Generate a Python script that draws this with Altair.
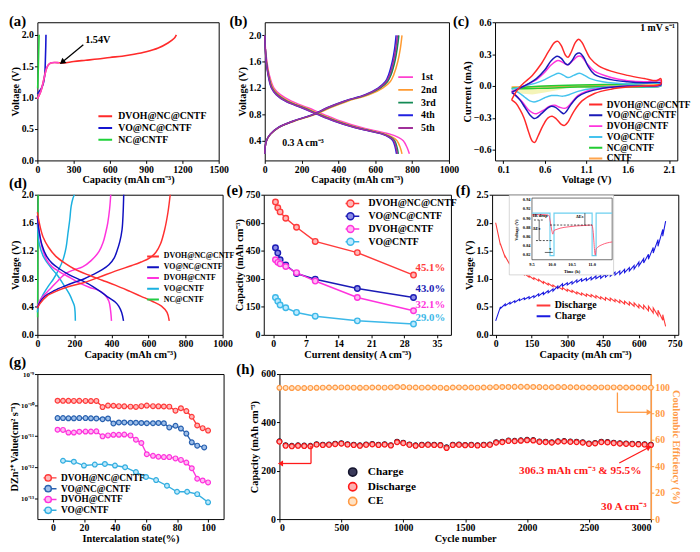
import math
import altair as alt
import pandas as pd

SERIF = "Liberation Serif"
CAP_T = "Capacity (mAh cm⁻³)"

# ---------------- (a) first charge ----------------
a_series = ["DVOH@NC@CNTF", "VO@NC@CNTF", "NC@CNTF"]
a_colors = ["#ff2a2a", "#1515d0", "#1fd23a"]
a_dvoh_cap = [0, 15, 30, 45, 60, 75, 90, 110, 140, 180, 220, 300, 400, 500, 600, 700, 800, 900, 1000, 1080, 1130, 1150]
a_dvoh_v = [0.98, 1.04, 1.11, 1.22, 1.35, 1.46, 1.52, 1.55, 1.56, 1.555, 1.55, 1.575, 1.595, 1.615, 1.64, 1.66, 1.69, 1.73, 1.79, 1.87, 1.94, 2.0]
a_pink_cap = [0, 15, 30, 45, 60, 75, 90, 110, 140, 180]
a_pink_v = [0.98, 1.04, 1.11, 1.22, 1.35, 1.46, 1.52, 1.55, 1.56, 1.555]
a_vo_cap = [0, 15, 30, 45, 55, 62, 66, 69, 71]
a_vo_v = [1.06, 1.1, 1.14, 1.2, 1.28, 1.4, 1.6, 1.8, 2.0]
a_nc_cap = [2, 5, 8, 11, 14]
a_nc_v = [1.15, 1.3, 1.5, 1.75, 2.0]

# ---------------- (b) GCD cycles ----------------
b_series = ["1st", "2nd", "3rd", "4th", "5th"]
b_colors = ["#ff40d0", "#ff9a30", "#138a55", "#2020e0", "#a0309a"]
b_dis_v = [2.0, 1.8, 1.6, 1.4, 1.2, 1.1, 1.0, 0.9, 0.8, 0.7, 0.6, 0.55, 0.5, 0.45, 0.4, 0.3, 0.2]
b_dis_1 = [0, 4, 12, 25, 50, 85, 145, 235, 320, 410, 525, 600, 680, 725, 752, 772, 785]
b_dis_2 = [0, 3, 10, 22, 45, 75, 130, 220, 305, 395, 505, 580, 655, 695, 718, 735, 745]
b_dis_3 = [0, 3, 9, 20, 40, 68, 120, 210, 295, 385, 495, 570, 645, 685, 705, 718, 725]
b_dis_4 = [0, 3, 8, 18, 36, 62, 112, 200, 285, 375, 487, 562, 637, 675, 695, 708, 715]
b_dis_5 = [0, 3, 8, 19, 38, 64, 115, 204, 289, 379, 490, 566, 641, 679, 700, 712, 720]
b_chg_v = [0.2, 0.3, 0.4, 0.5, 0.6, 0.7, 0.8, 0.9, 1.0, 1.1, 1.2, 1.3, 1.4, 1.6, 1.8, 2.0]
b_chg_1 = [0, 2, 10, 32, 75, 160, 270, 348, 440, 555, 625, 665, 683, 703, 716, 725]
b_chg_2 = [0, 2, 10, 32, 76, 163, 275, 355, 450, 568, 640, 682, 700, 722, 736, 745]
b_chg_3 = [0, 2, 9, 31, 74, 158, 268, 345, 438, 555, 626, 667, 685, 706, 719, 728]
b_chg_4 = [0, 2, 9, 30, 72, 155, 262, 338, 430, 545, 615, 655, 672, 692, 705, 713]
b_chg_5 = [0, 2, 9, 30, 73, 156, 265, 341, 434, 550, 620, 660, 678, 698, 711, 720]

# ---------------- (c) CV ----------------
c_series = ["DVOH@NC@CNTF", "VO@NC@CNTF", "DVOH@CNTF", "VO@CNTF", "NC@CNTF", "CNTF"]
c_colors = ["#ff2a2a", "#1a1ab8", "#ff33dd", "#45c3ee", "#22cc33", "#ffa54d"]
c_dvohnc_v = [0.20, 0.25, 0.30, 0.35, 0.45, 0.55, 0.65, 0.72, 0.76, 0.80, 0.85, 0.88, 0.92, 0.97, 1.01, 1.05, 1.10, 1.15, 1.25, 1.40, 1.60, 1.80, 1.95, 2.00,
              2.00, 1.80, 1.60, 1.40, 1.20, 1.05, 0.95, 0.88, 0.84, 0.80, 0.74, 0.69, 0.64, 0.58, 0.52, 0.48, 0.45, 0.40, 0.35, 0.30, 0.25, 0.20]
c_dvohnc_i = [-0.13, -0.06, -0.01, 0.03, 0.10, 0.20, 0.33, 0.41, 0.42, 0.38, 0.29, 0.27, 0.32, 0.41, 0.44, 0.41, 0.33, 0.26, 0.19, 0.14, 0.10, 0.07, 0.05, 0.07,
              0.02, 0.00, -0.01, -0.03, -0.07, -0.14, -0.24, -0.34, -0.37, -0.36, -0.31, -0.285, -0.30, -0.37, -0.47, -0.53, -0.52, -0.42, -0.30, -0.22, -0.16, -0.13]
c_vonc_v = [0.2, 0.3, 0.4, 0.5, 0.6, 0.68, 0.75, 0.80, 0.85, 0.88, 0.93, 0.98, 1.02, 1.07, 1.12, 1.2, 1.4, 1.6, 1.8, 2.0,
            2.0, 1.6, 1.3, 1.1, 1.0, 0.92, 0.86, 0.83, 0.79, 0.73, 0.68, 0.63, 0.56, 0.5, 0.47, 0.43, 0.36, 0.3, 0.25, 0.2]
c_vonc_i = [-0.06, -0.02, 0.02, 0.07, 0.15, 0.24, 0.28, 0.26, 0.21, 0.20, 0.24, 0.30, 0.31, 0.27, 0.19, 0.11, 0.06, 0.04, 0.03, 0.03,
            0.01, 0.0, -0.02, -0.06, -0.1, -0.17, -0.24, -0.26, -0.24, -0.2, -0.19, -0.21, -0.26, -0.3, -0.305, -0.28, -0.2, -0.13, -0.09, -0.06]
c_dvoh_v = [0.2, 0.3, 0.4, 0.5, 0.6, 0.68, 0.76, 0.82, 0.88, 0.94, 1.0, 1.04, 1.1, 1.2, 1.4, 1.6, 1.8, 2.0,
            2.0, 1.6, 1.3, 1.1, 1.0, 0.92, 0.87, 0.84, 0.78, 0.72, 0.66, 0.58, 0.5, 0.46, 0.4, 0.33, 0.27, 0.2]
c_dvoh_i = [-0.05, -0.02, 0.02, 0.06, 0.13, 0.2, 0.24, 0.22, 0.2, 0.24, 0.28, 0.28, 0.22, 0.14, 0.08, 0.05, 0.04, 0.05,
            0.01, 0.0, -0.02, -0.05, -0.09, -0.16, -0.2, -0.21, -0.2, -0.18, -0.19, -0.23, -0.26, -0.255, -0.22, -0.15, -0.1, -0.05]
c_vo_v = [0.2, 0.3, 0.4, 0.5, 0.6, 0.7, 0.77, 0.83, 0.88, 0.95, 1.02, 1.08, 1.15, 1.3, 1.6, 2.0,
          2.0, 1.6, 1.2, 1.0, 0.9, 0.82, 0.75, 0.68, 0.6, 0.52, 0.47, 0.42, 0.35, 0.28, 0.2]
c_vo_i = [-0.03, -0.01, 0.01, 0.03, 0.06, 0.1, 0.12, 0.1, 0.08, 0.1, 0.12, 0.1, 0.07, 0.04, 0.02, 0.02,
          0.0, -0.005, -0.02, -0.05, -0.08, -0.095, -0.09, -0.09, -0.11, -0.14, -0.15, -0.14, -0.1, -0.06, -0.03]
c_nc_v = [0.2, 0.6, 1.0, 1.5, 2.0, 2.0, 1.5, 1.0, 0.6, 0.3, 0.2]
c_nc_i = [-0.02, 0.0, 0.01, 0.015, 0.02, 0.0, -0.005, -0.01, -0.02, -0.025, -0.02]
c_cntf_v = [0.2, 1.0, 2.0, 2.0, 1.0, 0.2]
c_cntf_i = [-0.01, 0.0, 0.01, 0.0, -0.005, -0.01]
c_fill_v = [0.22, 0.3, 0.45, 0.6, 0.75, 0.95]
c_fill_lo = [-0.03, -0.07, -0.08, -0.06, -0.04, 0.0]

# ---------------- (d) GCD of materials ----------------
d_series = ["DVOH@NC@CNTF", "VO@NC@CNTF", "DVOH@CNTF", "VO@CNTF", "NC@CNTF"]
d_colors = ["#ff3030", "#1010c0", "#ff33dd", "#1ab0e0", "#22cc44"]
d_r_dis_c = [0, 10, 30, 60, 100, 150, 200, 280, 350, 420, 500, 560, 620, 670, 700, 712]
d_r_dis_v = [1.75, 1.6, 1.4, 1.25, 1.12, 1.02, 0.94, 0.85, 0.78, 0.71, 0.62, 0.55, 0.48, 0.41, 0.32, 0.2]
d_r_chg_c = [0, 15, 50, 100, 170, 244, 330, 420, 510, 560, 607, 640, 665, 687, 705, 717]
d_r_chg_v = [0.38, 0.45, 0.55, 0.62, 0.69, 0.74, 0.82, 0.91, 0.99, 1.04, 1.1, 1.18, 1.3, 1.5, 1.75, 2.0]
d_b_dis_c = [0, 8, 25, 50, 80, 120, 170, 244, 300, 350, 386, 420, 439, 455, 465]
d_b_dis_v = [1.7, 1.5, 1.28, 1.12, 1.02, 0.94, 0.86, 0.77, 0.69, 0.6, 0.53, 0.47, 0.41, 0.32, 0.2]
d_b_chg_c = [0, 10, 40, 90, 150, 200, 244, 300, 350, 386, 415, 430, 445, 457, 463, 466]
d_b_chg_v = [0.38, 0.45, 0.55, 0.63, 0.7, 0.75, 0.79, 0.86, 0.93, 1.0, 1.1, 1.2, 1.33, 1.5, 1.75, 2.0]
d_m_dis_c = [0, 8, 25, 50, 80, 120, 160, 220, 280, 333, 365, 386, 395, 400]
d_m_dis_v = [1.7, 1.5, 1.25, 1.07, 0.97, 0.9, 0.84, 0.75, 0.68, 0.63, 0.57, 0.48, 0.35, 0.2]
d_m_chg_c = [0, 10, 30, 67, 110, 156, 200, 244, 290, 333, 355, 368, 380, 390, 396]
d_m_chg_v = [0.4, 0.47, 0.55, 0.65, 0.77, 0.88, 0.93, 0.97, 1.06, 1.19, 1.32, 1.45, 1.6, 1.8, 2.0]
d_c_dis_c = [0, 10, 32, 70, 111, 145, 173, 190, 200, 205]
d_c_dis_v = [1.6, 1.3, 1.12, 0.97, 0.84, 0.7, 0.58, 0.48, 0.41, 0.2]
d_c_chg_c = [0, 8, 32, 60, 85, 115, 138, 155, 165, 175, 182, 192, 200]
d_c_chg_v = [0.32, 0.45, 0.58, 0.7, 0.79, 0.93, 1.07, 1.25, 1.45, 1.65, 1.83, 1.95, 2.0]
d_g_c = [1, 2, 3, 4]
d_g_v = [0.25, 0.8, 1.5, 2.0]

# ---------------- (e) rate ----------------
e_series = ["DVOH@NC@CNTF", "VO@NC@CNTF", "DVOH@CNTF", "VO@CNTF"]
e_colors = ["#ff3b3b", "#1b1bb5", "#ff33dd", "#3cb8e8"]
e_fills = ["#ffb8b8", "#8c8ce6", "#ffb8f2", "#bdeaff"]
e_x = [0.5, 1, 1.5, 2.7, 5, 9, 18, 30]
e_dvohnc = [711, 680, 658, 624, 576, 500, 440, 320]
e_vonc = [466, 438, 402, 374, 328, 298, 248, 200]
e_dvoh = [402, 388, 380, 366, 333, 288, 200, 129]
e_vo = [200, 180, 160, 145, 120, 100, 75, 58]
e_pct = ["45.1%", "43.0%", "32.1%", "29.0%"]
e_pct_y = [356, 243, 157, 91]

# ---------------- (f) GITT ----------------
f_series = ["Discharge", "Charge"]
f_colors = ["#ff3a3a", "#1a1ae0"]
f_cap = [0, 20, 40, 60, 80, 100, 120, 140, 160, 180, 200, 220, 240, 260, 280, 300, 320, 340, 360, 380,
         400, 420, 440, 460, 480, 500, 520, 540, 560, 580, 600, 620, 640, 660, 680, 700, 712]
f_dis_v = [2.0, 1.6, 1.38, 1.25, 1.17, 1.11, 1.07, 1.03, 0.99, 0.96, 0.92, 0.89, 0.86, 0.83, 0.81, 0.78, 0.76, 0.73, 0.71, 0.69,
           0.68, 0.66, 0.64, 0.62, 0.61, 0.59, 0.57, 0.55, 0.53, 0.51, 0.48, 0.46, 0.43, 0.39, 0.34, 0.26, 0.15]
f_dis_relax = [0, 0.02, 0.02, 0.02, 0.02, 0.025, 0.025, 0.025, 0.03, 0.03, 0.03, 0.03, 0.03, 0.03, 0.035, 0.035, 0.035, 0.035, 0.035, 0.04,
               0.04, 0.04, 0.04, 0.045, 0.045, 0.045, 0.05, 0.05, 0.055, 0.06, 0.06, 0.07, 0.08, 0.09, 0.1, 0.1, 0]
f_chg_v = [0.25, 0.5, 0.55, 0.58, 0.61, 0.64, 0.66, 0.68, 0.70, 0.73, 0.76, 0.79, 0.82, 0.87, 0.91, 0.93, 0.95, 0.98, 1.0, 1.01,
           1.03, 1.05, 1.06, 1.08, 1.1, 1.12, 1.14, 1.17, 1.2, 1.24, 1.3, 1.36, 1.44, 1.56, 1.7, 1.88, 2.03]
f_chg_relax = [0, 0.03, 0.03, 0.03, 0.03, 0.03, 0.03, 0.035, 0.035, 0.035, 0.04, 0.04, 0.04, 0.04, 0.04, 0.04, 0.045, 0.045, 0.045, 0.045,
               0.05, 0.05, 0.05, 0.05, 0.055, 0.055, 0.06, 0.06, 0.06, 0.065, 0.07, 0.08, 0.09, 0.1, 0.12, 0.12, 0]
# inset: time (h) and voltage (V)
in_pulse_t = [9.5, 9.95, 9.95, 10.05, 10.05, 11.0, 11.0, 11.1, 11.1, 11.5]
in_pulse_v = [0.912, 0.912, 0.819, 0.819, 0.912, 0.912, 0.819, 0.819, 0.912, 0.912]
in_volt_t = [9.5, 9.7, 9.9, 9.93, 9.95, 10.0, 10.02, 10.05, 10.1, 10.2, 10.4, 10.6, 10.8, 11.0, 11.02, 11.08, 11.1, 11.15, 11.25, 11.5]
in_volt_v = [0.908, 0.909, 0.908, 0.906, 0.897, 0.872, 0.866, 0.874, 0.876, 0.879, 0.882, 0.884, 0.885, 0.886, 0.876, 0.82, 0.833, 0.838, 0.843, 0.849]
in_yticks = [0.82, 0.84, 0.86, 0.88, 0.90, 0.92, 0.94]
in_xticks = [9.5, 10.0, 10.5, 11.0]

# ---------------- (g) diffusion ----------------
g_series = ["DVOH@NC@CNTF", "VO@NC@CNTF", "DVOH@CNTF", "VO@CNTF"]
g_colors = ["#ff3b3b", "#2a62b0", "#ff33dd", "#33aee0"]
g_fills = ["#ffb8b8", "#9fc0ea", "#ffb8f2", "#bfe9fb"]
g_x = [3, 6.5, 10, 13.5, 17, 21, 24.5, 28, 32, 35.5, 39, 42.5, 46, 50, 53.5, 57, 60.5, 64.5, 68, 71.5, 75, 79, 82.5, 86, 89.5, 93, 96.5, 100]
g_dvohnc = [1.38e-10, 1.37e-10, 1.37e-10, 1.36e-10, 1.37e-10, 1.36e-10, 1.35e-10, 1.36e-10, 8.6e-11, 9.6e-11, 9.5e-11, 9.2e-11, 9.1e-11, 8.9e-11,
            8.7e-11, 9.2e-11, 9.6e-11, 9.2e-11, 9.1e-11, 9.0e-11, 8.9e-11, 6.6e-11, 7.9e-11, 6.4e-11, 4.2e-11, 2.2e-11, 1.8e-11, 1.5e-11]
g_vonc_x = [3, 6.5, 10, 13.5, 17, 21, 24.5, 28, 32, 35.5, 39, 42.5, 46, 50, 53.5, 57, 60.5, 64.5, 68, 71.5, 75, 79, 82.5, 86, 89.5, 93, 97.5]
g_vonc = [3.8e-11, 3.8e-11, 3.75e-11, 3.75e-11, 3.8e-11, 3.8e-11, 3.75e-11, 3.7e-11, 3.5e-11, 3.7e-11, 2.55e-11, 2.75e-11, 2.75e-11, 2.7e-11,
          2.7e-11, 2.65e-11, 2.6e-11, 2.6e-11, 2.65e-11, 2.6e-11, 1.9e-11, 2.15e-11, 1.75e-11, 1.2e-11, 6.3e-12, 4.9e-12, 4.3e-12]
g_dvoh = [1.6e-11, 1.58e-11, 1.3e-11, 1.3e-11, 1.38e-11, 1.4e-11, 1.4e-11, 1.42e-11, 9.8e-12, 1.05e-11, 1.1e-11, 1.1e-11, 1.12e-11, 1.05e-11,
          7.6e-12, 6.0e-12, 2.6e-12, 2.3e-12, 2.15e-12, 2.1e-12, 2.1e-12, 1.9e-12, 1.7e-12, 1.4e-12, 9.2e-13, 4.2e-13, 3.7e-13, 3.2e-13]
g_vo_x = [6.5, 13.5, 20, 27, 33.5, 40, 46.5, 53.5, 60, 66.5, 73.5, 80, 86.5, 93, 100]
g_vo = [1.6e-12, 1.49e-12, 1.12e-12, 1.2e-12, 1.26e-12, 1.12e-12, 9.9e-13, 6.9e-13, 4.8e-13, 3.8e-13, 2.5e-13, 1.6e-13, 1.6e-13, 1.34e-13, 7.3e-14]

# ---------------- (h) long cycling ----------------
h_series = ["Charge", "Discharge", "CE"]
h_stroke = ["#14142e", "#ff1a1a", "#ff9a45"]
h_fill = ["#3a3a5a", "#ffb0b0", "#ffe2c4"]
h_cycle = [0, 50, 100, 150, 200, 250, 300, 350, 400, 450, 500, 550, 600, 650, 700, 750, 800, 850, 900, 950, 1000,
           1050, 1100, 1150, 1200, 1250, 1300, 1350, 1400, 1450, 1500, 1550, 1600, 1650, 1700, 1750, 1800, 1850, 1900, 1950, 2000,
           2050, 2100, 2150, 2200, 2250, 2300, 2350, 2400, 2450, 2500, 2550, 2600, 2650, 2700, 2750, 2800, 2850, 2900, 2950, 3000]
h_dis = [320, 303, 301, 303, 302, 301, 308, 306, 307, 310, 312, 308, 306, 303, 307, 309, 306, 308, 304, 318, 314,
         307, 303, 306, 307, 306, 305, 294, 306, 307, 305, 306, 304, 306, 307, 316, 318, 323, 322, 324, 326,
         325, 319, 318, 316, 320, 321, 319, 318, 316, 311, 313, 318, 317, 314, 312, 311, 310, 309, 308, 306]
h_chg = [322, 306, 303, 305, 304, 303, 310, 308, 309, 312, 314, 310, 308, 305, 309, 311, 308, 310, 306, 320, 316,
         309, 305, 308, 309, 308, 307, 297, 308, 309, 307, 308, 306, 308, 309, 318, 320, 325, 324, 326, 328,
         327, 321, 320, 318, 322, 323, 321, 320, 318, 313, 315, 320, 319, 316, 314, 313, 312, 311, 310, 308]
h_ce = [99.6, 99.5, 99.4, 99.5, 99.4, 99.5, 99.6, 99.7, 99.8, 99.8, 99.9, 99.8, 99.7, 99.6, 99.7, 99.8, 99.8, 99.7, 99.9, 100.2, 100.1,
        99.9, 99.8, 99.7, 99.8, 99.8, 99.7, 99.4, 99.8, 99.9, 99.8, 99.8, 99.7, 99.8, 99.9, 100.1, 100.2, 100.2, 100.3, 100.3, 100.3,
        100.2, 100.1, 100.0, 100.0, 100.1, 100.1, 100.0, 100.0, 99.9, 99.8, 99.8, 99.9, 99.9, 99.9, 99.8, 99.8, 99.8, 99.8, 99.7, 99.7]


# ======================================================================
def lpath(size, half, gap=0.0):
    """Horizontal line legend symbol of given half length in pixels (optionally with a gap)."""
    k = half / (math.sqrt(size) / 2)
    if gap:
        return "M%.3f,0L%.3f,0M%.3f,0L%.3f,0" % (-k, -gap, gap, k)
    return "M%.3f,0L%.3f,0" % (-k, k)


def leg(line_left, label_x, first_row, pitch, fs=10, size=72, sw=2, half=8.5, sym=None, gap=0.0, hide_labels=False):
    """Legend with symbol line starting at line_left, labels at label_x, rows every `pitch` px."""
    s = math.sqrt(size)
    lx = line_left - s / 2 + half
    lo = label_x - lx - s
    kw = dict(title=None, orient="none", legendX=lx, legendY=first_row - pitch / 2,
              labelFont=SERIF, labelFontWeight="bold", labelFontSize=fs,
              symbolType=sym if sym else lpath(size, half, gap), symbolSize=size, symbolStrokeWidth=sw,
              rowPadding=0, clipHeight=pitch, labelOffset=lo, padding=0, labelLimit=400)
    if hide_labels:
        kw["labelExpr"] = "''"
    return alt.Legend(**kw)


def df_curves(items):
    rows = []
    for s, seg, xs, ys in items:
        for i, (x, y) in enumerate(zip(xs, ys)):
            rows.append({"s": s, "sl": s + " ", "seg": seg, "i": i, "x": x, "y": y})
    return pd.DataFrame(rows)


def plabel(t, dx=-29, dy=-8, fs=15):
    return alt.Chart(pd.DataFrame({"t": [t]})).mark_text(
        font=SERIF, fontWeight="bold", fontSize=fs, align="left", baseline="top"
    ).encode(text="t:N", x=alt.value(dx), y=alt.value(dy))


def enc(dom, vals, title, fmt=None, log=False, **ax):
    kw = dict(values=vals, title=title)
    if fmt:
        kw["format"] = fmt
    kw.update(ax)
    if log:
        sc = alt.Scale(type="log", domain=dom, nice=False)
    else:
        sc = alt.Scale(domain=dom, nice=False, zero=False)
    return sc, alt.Axis(**kw)


def text_layer(X, Y, xs, ys, texts, color="black", size=10, align="left", angle=0, baseline="middle"):
    d = pd.DataFrame({"x": xs, "y": ys, "t": texts})
    return alt.Chart(d).mark_text(font=SERIF, fontWeight="bold", fontSize=size, align=align,
                                  baseline=baseline, color=color, angle=angle).encode(
        x=X("x"), y=Y("y"), text="t:N")


def rule_layer(X, Y, x1, y1, x2, y2, color="black", width=1.2, dash=None):
    d = pd.DataFrame({"x": x1, "y": y1, "x2": x2, "y2": y2})
    kw = dict(color=color, strokeWidth=width)
    if dash:
        kw["strokeDash"] = dash
    return alt.Chart(d).mark_rule(**kw).encode(x=X("x"), y=Y("y"), x2="x2:Q", y2="y2:Q")


def head_layer(X, Y, x, y, angle, color="black", size=40, shape="triangle-up"):
    d = pd.DataFrame({"x": [x], "y": [y]})
    return alt.Chart(d).mark_point(shape=shape, filled=True, size=size, angle=angle, color=color,
                                   opacity=1).encode(x=X("x"), y=Y("y"))


# ---------------- panel (a) ----------------
def panel_a():
    sx, ax = enc([0, 1500], [0, 300, 600, 900, 1200, 1500], CAP_T, "d")
    sy, ay = enc([0, 2.2], [0, 0.5, 1.0, 1.5, 2.0], "Voltage (V)", ".1f")
    X = lambda f: alt.X(f, type="quantitative", scale=sx, axis=ax)
    Y = lambda f: alt.Y(f, type="quantitative", scale=sy, axis=ay)
    df = df_curves([(a_series[2], "n", a_nc_cap, a_nc_v), (a_series[1], "v", a_vo_cap, a_vo_v),
                    (a_series[0], "d", a_dvoh_cap, a_dvoh_v)])
    main = alt.Chart(df).mark_line(strokeWidth=1.6, interpolate="catmull-rom").encode(
        x=X("x"), y=Y("y"),
        color=alt.Color("s:N", scale=alt.Scale(domain=a_series, range=a_colors),
                        legend=leg(58, 80, 96, 12, fs=10, size=72, sw=2)),
        detail="seg:N", order="i:Q")
    pink = alt.Chart(df_curves([("p", "p", a_pink_cap, a_pink_v)])).mark_line(
        color="#ff44cc", strokeWidth=1.6, interpolate="catmull-rom").encode(x=X("x"), y=Y("y"), order="i:Q")
    arrow = rule_layer(X, Y, [380], [1.84], [212], [1.575], width=1.3)
    head = head_layer(X, Y, 205, 1.565, 231, size=45)
    txt = text_layer(X, Y, [395], [1.92], ["1.54V"], size=10.5)
    return alt.layer(main, pink, arrow, head, txt, plabel("(a)")).properties(width=185, height=141)


# ---------------- panel (b) ----------------
def panel_b():
    sx, ax = enc([0, 1000], [0, 200, 400, 600, 800, 1000], CAP_T, "d")
    sy, ay = enc([0.1, 2.2], [0.4, 0.8, 1.2, 1.6, 2.0], "Voltage (V)", ".1f")
    X = lambda f: alt.X(f, type="quantitative", scale=sx, axis=ax)
    Y = lambda f: alt.Y(f, type="quantitative", scale=sy, axis=ay)
    dis = [b_dis_1, b_dis_2, b_dis_3, b_dis_4, b_dis_5]
    chg = [b_chg_1, b_chg_2, b_chg_3, b_chg_4, b_chg_5]
    items = []
    for k, s in enumerate(b_series):
        items.append((s, s + "d", dis[k], b_dis_v))
        items.append((s, s + "c", chg[k], b_chg_v))
    df = df_curves(items)
    main = alt.Chart(df).mark_line(strokeWidth=1.5, interpolate="catmull-rom").encode(
        x=X("x"), y=Y("y"),
        color=alt.Color("s:N", scale=alt.Scale(domain=b_series, range=b_colors),
                        legend=leg(131, 157, 56, 12.3, fs=10, size=72, sw=2, half=9.5)),
        detail="seg:N", order="i:Q")
    txt = text_layer(X, Y, [95], [0.36], ["0.3 A cm⁻³"], size=10)
    return alt.layer(main, txt, plabel("(b)", dx=-36)).properties(width=188, height=141)


# ---------------- panel (c) ----------------
def panel_c():
    sx, ax = enc([0, 2.2], [0.1, 0.6, 1.1, 1.6, 2.1], "Voltage (V)", ".1f")
    sy, ay = enc([-0.7, 0.6], [-0.6, -0.3, 0.0, 0.3, 0.6], "Current (mA)", ".1f")
    X = lambda f: alt.X(f, type="quantitative", scale=sx, axis=ax)
    Y = lambda f: alt.Y(f, type="quantitative", scale=sy, axis=ay)
    fill = alt.Chart(pd.DataFrame({"x": c_fill_v, "y": c_fill_lo, "y2": [0] * len(c_fill_v)})).mark_area(
        color="#f3f3b0", opacity=0.9).encode(x=X("x"), y=Y("y"), y2="y2:Q")
    df = df_curves([(c_series[5], "5", c_cntf_v, c_cntf_i), (c_series[4], "4", c_nc_v, c_nc_i),
                    (c_series[3], "3", c_vo_v, c_vo_i), (c_series[2], "2", c_dvoh_v, c_dvoh_i),
                    (c_series[1], "1", c_vonc_v, c_vonc_i), (c_series[0], "0", c_dvohnc_v, c_dvohnc_i)])
    main = alt.Chart(df).mark_line(strokeWidth=1.5, interpolate="catmull-rom").encode(
        x=X("x"), y=Y("y"),
        color=alt.Color("s:N", scale=alt.Scale(domain=c_series, range=c_colors),
                        legend=leg(91, 111, 84, 10.2, fs=9.5, size=50, sw=2)),
        detail="seg:N", order="i:Q")
    txt = text_layer(X, Y, [2.17], [0.55], ["1 mV s⁻¹"], size=10, align="right")
    return alt.layer(fill, main, txt, plabel("(c)", dx=-43)).properties(width=186, height=141)


# ---------------- panel (d) ----------------
def panel_d():
    sx, ax = enc([0, 1000], [0, 200, 400, 600, 800, 1000], CAP_T, "d")
    sy, ay = enc([0, 2.0], [0.0, 0.4, 0.8, 1.2, 1.6, 2.0], "Voltage (V)", ".1f")
    X = lambda f: alt.X(f, type="quantitative", scale=sx, axis=ax)
    Y = lambda f: alt.Y(f, type="quantitative", scale=sy, axis=ay)
    df = df_curves([
        (d_series[4], "g", d_g_c, d_g_v),
        (d_series[3], "cd", d_c_dis_c, d_c_dis_v), (d_series[3], "cc", d_c_chg_c, d_c_chg_v),
        (d_series[2], "md", d_m_dis_c, d_m_dis_v), (d_series[2], "mc", d_m_chg_c, d_m_chg_v),
        (d_series[1], "bd", d_b_dis_c, d_b_dis_v), (d_series[1], "bc", d_b_chg_c, d_b_chg_v),
        (d_series[0], "rd", d_r_dis_c, d_r_dis_v), (d_series[0], "rc", d_r_chg_c, d_r_chg_v)])
    main = alt.Chart(df).mark_line(strokeWidth=1.5, interpolate="catmull-rom").encode(
        x=X("x"), y=Y("y"),
        color=alt.Color("s:N", scale=alt.Scale(domain=d_series, range=d_colors),
                        legend=leg(108, 127, 63, 10.5, fs=8, size=49, sw=2, half=7.5)),
        detail="seg:N", order="i:Q")
    return alt.layer(main, plabel("(d)", dx=-29, dy=-19)).properties(width=189, height=143)


# ---------------- panel (e) ----------------
def panel_e():
    sx, ax = enc([-2, 38], [0, 7, 14, 21, 28, 35], "Current density( A cm⁻³)")
    sy, ay = enc([0, 750], [0, 150, 300, 450, 600, 750], CAP_T)
    X = lambda f: alt.X(f, type="quantitative", scale=sx, axis=ax)
    Y = lambda f: alt.Y(f, type="quantitative", scale=sy, axis=ay)
    vals = [e_dvohnc, e_vonc, e_dvoh, e_vo]
    df = df_curves([(s, s, e_x, vals[k]) for k, s in enumerate(e_series)])
    args = dict(fs=10, size=50, sw=1.5, half=9)
    ln = alt.Chart(df).mark_line(strokeWidth=1.5).encode(
        x=X("x"), y=Y("y"),
        color=alt.Color("sl:N", scale=alt.Scale(domain=[s + " " for s in e_series], range=e_colors),
                        legend=leg(78, 104, 9, 12.3, gap=1.0, hide_labels=True, **args)),
        detail="seg:N", order="i:Q")
    lg = leg(78, 104, 9, 12.3, sym="circle", **args)
    pt = alt.Chart(df).mark_point(filled=True, size=32, strokeWidth=1.4, opacity=1).encode(
        x=X("x"), y=Y("y"),
        stroke=alt.Stroke("s:N", scale=alt.Scale(domain=e_series, range=e_colors), legend=lg),
        fill=alt.Fill("s:N", scale=alt.Scale(domain=e_series, range=e_fills), legend=lg))
    tx = alt.Chart(pd.DataFrame({"x": [33.6] * 4, "y": e_pct_y, "t": e_pct, "c": e_colors})).mark_text(
        font=SERIF, fontWeight="bold", fontSize=11, align="center").encode(
        x=X("x"), y=Y("y"), text="t:N", color=alt.Color("c:N", scale=None))
    return alt.layer(ln, pt, tx, plabel("(e)", dx=-38, dy=-12)).properties(width=191, height=143)


# ---------------- panel (f) ----------------
IX0, IX1, IY0, IY1 = 152, 488, 1.34, 2.44


def ix(t):
    return IX0 + (t - 9.5) / 2.0 * (IX1 - IX0)


def iy(v):
    return IY0 + (v - 0.81) / 0.135 * (IY1 - IY0)


def panel_f():
    sx, ax = enc([-15, 765], [0, 150, 300, 450, 600, 750], CAP_T, "d")
    sy, ay = enc([0, 2.5], [0.0, 0.5, 1.0, 1.5, 2.0, 2.5], "Voltage (V)", ".1f")
    X = lambda f: alt.X(f, type="quantitative", scale=sx, axis=ax)
    Y = lambda f: alt.Y(f, type="quantitative", scale=sy, axis=ay)
    dx, dy, cx, cy = [], [], [], []
    for c, v, r in zip(f_cap, f_dis_v, f_dis_relax):
        dx += [c, c]
        dy += [v, v + r]
    for c, v, r in zip(f_cap, f_chg_v, f_chg_relax):
        cx += [c, c]
        cy += [v, v - r]
    df = df_curves([("Discharge", "d", dx, dy), ("Charge", "c", cx, cy)])
    main = alt.Chart(df).mark_line(strokeWidth=1.1).encode(
        x=X("x"), y=Y("y"),
        color=alt.Color("s:N", scale=alt.Scale(domain=f_series, range=f_colors),
                        legend=leg(40, 61, 113, 11, fs=10, size=50, sw=2, half=9)),
        detail="seg:N", order="i:Q")
    # inset
    bg = alt.Chart(pd.DataFrame({"x": [IX0 - 95], "x2": [IX1 + 6], "y": [IY0 - 0.27], "y2": [IY1 + 0.05]})).mark_rect(
        fill="white", stroke="#bbbbbb", strokeWidth=0.6).encode(x=X("x"), x2="x2:Q", y=Y("y"), y2="y2:Q")
    frame = alt.Chart(pd.DataFrame({"x": [IX0], "x2": [IX1], "y": [IY0], "y2": [IY1]})).mark_rect(
        fill="white", stroke="#333333", strokeWidth=0.7).encode(x=X("x"), x2="x2:Q", y=Y("y"), y2="y2:Q")
    pulse = alt.Chart(df_curves([("p", "p", [ix(t) for t in in_pulse_t], [iy(v) for v in in_pulse_v])])).mark_line(
        color="#6cd0f0", strokeWidth=1.2).encode(x=X("x"), y=Y("y"), order="i:Q")
    volt = alt.Chart(df_curves([("v", "v", [ix(t) for t in in_volt_t], [iy(v) for v in in_volt_v])])).mark_line(
        color="#ff4a6a", strokeWidth=0.9, interpolate="monotone").encode(x=X("x"), y=Y("y"), order="i:Q")
    dash = rule_layer(X, Y, [ix(9.55), ix(9.6), ix(9.95)], [iy(0.897), iy(0.852), iy(0.886)],
                      [ix(9.8), ix(10.0), ix(11.0)], [iy(0.897), iy(0.852), iy(0.886)], width=0.7, dash=[2, 1.5])
    arrs = rule_layer(X, Y, [ix(9.68), ix(10.82), ix(9.82)], [iy(0.897), iy(0.912), iy(0.826)],
                      [ix(9.68), ix(10.82), ix(10.02)], [iy(0.852), iy(0.886), iy(0.826)], width=0.6)
    ylab = text_layer(X, Y, [IX0 - 6] * len(in_yticks), [iy(v) for v in in_yticks],
                      ["%.2f" % v for v in in_yticks], size=4.5, align="right")
    xlab = text_layer(X, Y, [ix(t) for t in in_xticks], [IY0 - 0.04] * len(in_xticks),
                      ["%.1f" % t for t in in_xticks], size=4.5, align="center", baseline="top")
    ttl = text_layer(X, Y, [IX0 - 62], [iy(0.875)], ["Voltage (V)"], size=4.5, align="center", angle=270)
    ttl2 = text_layer(X, Y, [ix(10.5)], [IY0 - 0.17], ["Time (h)"], size=4.5, align="center", baseline="top")
    ann = text_layer(X, Y, [ix(9.52), ix(9.52), ix(10.6), ix(9.93)],
                     [iy(0.902), iy(0.874), iy(0.9), iy(0.829)],
                     ["IR drop", "ΔEτ", "ΔEs", "τ"], size=4.5, align="left", baseline="bottom")
    return alt.layer(main, bg, frame, pulse, volt, dash, arrs, ylab, xlab, ttl, ttl2, ann,
                     plabel("(f)", dx=-37, dy=-12)).properties(width=190, height=143)


# ---------------- panel (g) ----------------
def panel_g():
    sx, ax = enc([-10, 110], [0, 20, 40, 60, 80, 100], "Intercalation state(%)")
    expr = ("datum.value > 5e-10 ? '10⁻⁹' : datum.value > 5e-11 ? '10⁻¹⁰' : datum.value > 5e-12 ? '10⁻¹¹' : "
            "datum.value > 5e-13 ? '10⁻¹²' : '10⁻¹³'")
    sy, ay = enc([2.1e-14, 1e-9], [1e-9, 1e-10, 1e-11, 1e-12, 1e-13], "DZn²⁺ Value(cm² s⁻¹)", log=True,
                 labelExpr=expr, labelFontSize=7)
    X = lambda f: alt.X(f, type="quantitative", scale=sx, axis=ax)
    Y = lambda f: alt.Y(f, type="quantitative", scale=sy, axis=ay)
    df = df_curves([(g_series[0], "0", g_x, g_dvohnc), (g_series[1], "1", g_vonc_x, g_vonc),
                    (g_series[2], "2", g_x, g_dvoh), (g_series[3], "3", g_vo_x, g_vo)])
    args = dict(fs=9.5, size=42, sw=1.4, half=8.5)
    ln = alt.Chart(df).mark_line(strokeWidth=1.4).encode(
        x=X("x"), y=Y("y"),
        color=alt.Color("sl:N", scale=alt.Scale(domain=[s + " " for s in g_series], range=g_colors),
                        legend=leg(1, 21, 106, 10.7, gap=1.0, hide_labels=True, **args)),
        detail="seg:N", order="i:Q")
    lg = leg(1, 21, 106, 10.7, sym="circle", **args)
    pt = alt.Chart(df).mark_point(filled=True, size=24, strokeWidth=1.2, opacity=1).encode(
        x=X("x"), y=Y("y"),
        stroke=alt.Stroke("s:N", scale=alt.Scale(domain=g_series, range=g_colors), legend=lg),
        fill=alt.Fill("s:N", scale=alt.Scale(domain=g_series, range=g_fills), legend=lg))
    return alt.layer(ln, pt, plabel("(g)", dx=-29, dy=-19)).properties(width=190, height=148)


# ---------------- panel (h) ----------------
def panel_h():
    sx, ax = enc([0, 3000], [0, 500, 1000, 1500, 2000, 2500, 3000], "Cycle number", "d", labelFlush=True)
    sy, ay = enc([0, 600], [0, 200, 400, 600], CAP_T)
    sy2, ay2 = enc([0, 110], [0, 20, 40, 60, 80, 100], "Coulombic Efficiency (%)", orient="right",
                   labelColor="#ff9a45", titleColor="#ff9a45", tickColor="#ff9a45",
                   domain=True, domainColor="#ff9a45", domainWidth=1.5)
    X = lambda f: alt.X(f, type="quantitative", scale=sx, axis=ax)
    Y = lambda f: alt.Y(f, type="quantitative", scale=sy, axis=ay)
    Y2 = lambda f: alt.Y(f, type="quantitative", scale=sy2, axis=ay2)
    lg = leg(69, 87, 100, 15, fs=11.5, size=70, sw=1.6, half=4.2, sym="circle")
    stroke = alt.Stroke("s:N", scale=alt.Scale(domain=h_series, range=h_stroke), legend=lg)
    fill = alt.Fill("s:N", scale=alt.Scale(domain=h_series, range=h_fill), legend=lg)
    cap_df = pd.concat([
        pd.DataFrame({"x": h_cycle, "y": h_chg, "s": "Charge"}),
        pd.DataFrame({"x": h_cycle, "y": h_dis, "s": "Discharge"})])
    pts = alt.Chart(cap_df).mark_point(filled=True, size=24, strokeWidth=1.2, opacity=1).encode(
        x=X("x"), y=Y("y"), stroke=stroke, fill=fill)
    red = "#ff1a1a"
    r1 = rule_layer(X, Y, [255, 255], [302, 230], [255, 12], [230, 230], color=red, width=1.3)
    rh = head_layer(X, Y, 8, 230, 0, color=red, size=38, shape="triangle-left")
    r2 = rule_layer(X, Y, [2745], [232], [2975], [294], color=red, width=1.3)
    rh2 = head_layer(X, Y, 2985, 297, 62, color=red, size=38)
    t1 = text_layer(X, Y, [2430], [197], ["306.3 mAh cm⁻³ & 95.5%"], color=red, size=11.5, align="center")
    t2 = text_layer(X, Y, [2965], [48], ["30 A cm⁻³"], color=red, size=11.5, align="right")
    left = alt.layer(pts, r1, rh, r2, rh2, t1, t2)
    ce_df = pd.DataFrame({"x": h_cycle, "y": h_ce, "s": "CE"})
    ce = alt.Chart(ce_df).mark_point(filled=True, size=24, strokeWidth=1.2, opacity=1).encode(
        x=X("x"), y=Y2("y"), stroke=stroke, fill=fill)
    org = "#ff9a45"
    o1 = rule_layer(X, Y2, [2730, 2730], [96, 81], [2730, 2975], [81, 81], color=org, width=1.3)
    oh = head_layer(X, Y2, 2987, 81, 0, color=org, size=38, shape="triangle-right")
    right = alt.layer(ce, o1, oh)
    return alt.layer(left, right, plabel("(h)", dx=-44, dy=-12)).resolve_scale(y="independent").properties(
        width=379, height=148)


RES = dict(x="independent", y="independent", color="independent", stroke="independent", fill="independent")
LRES = dict(color="independent", stroke="independent", fill="independent")

row1 = alt.hconcat(panel_a(), panel_b(), panel_c(), spacing=47, bounds="flush").resolve_scale(**RES).resolve_legend(**LRES)
row2 = alt.hconcat(panel_d(), panel_e(), panel_f(), spacing=42, bounds="flush").resolve_scale(**RES).resolve_legend(**LRES)
row3 = alt.hconcat(panel_g(), panel_h(), spacing=57, bounds="flush").resolve_scale(**RES).resolve_legend(**LRES)

lower = alt.vconcat(row2, row3, spacing=-6).resolve_scale(**RES).resolve_legend(**LRES)
chart = alt.vconcat(row1, lower, spacing=-11).resolve_scale(**RES).resolve_legend(**LRES)
chart = chart.properties(padding=0, background="white").configure_view(
    stroke="black", strokeWidth=1
).configure_axis(
    labelFont=SERIF, titleFont=SERIF, labelFontWeight="bold", titleFontWeight="bold",
    labelFontSize=10, titleFontSize=10.5, labelColor="black", titleColor="black",
    tickColor="black", tickSize=3, grid=False, domain=False, labelPadding=1, titlePadding=1,
    labelFlush=False, labelOverlap=False
).configure_text(font=SERIF)

chart.save("out.html", embed_options={"renderer": "svg", "actions": False})
